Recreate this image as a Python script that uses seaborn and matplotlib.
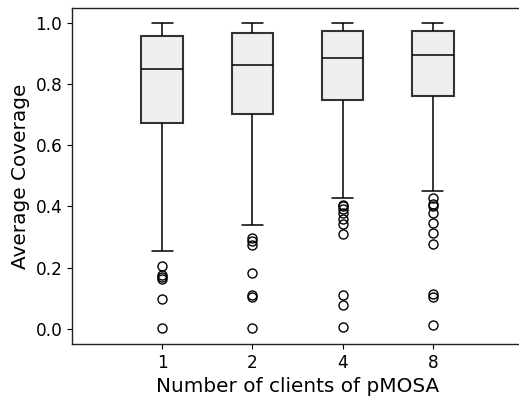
import matplotlib
matplotlib.use("Agg")
import matplotlib.pyplot as plt
import seaborn as sns
import pandas as pd

# values
clients = ["1", "2", "4", "8"]
q1 = [0.674, 0.703, 0.749, 0.761]
median = [0.850, 0.863, 0.886, 0.896]
q3 = [0.956, 0.966, 0.974, 0.975]
whisker_low = [0.254, 0.339, 0.426, 0.450]
whisker_high = [1.0, 1.0, 1.0, 1.0]
outliers = [
    [0.204, 0.175, 0.168, 0.162, 0.098, 0.001],
    [0.297, 0.286, 0.275, 0.182, 0.109, 0.105, 0.001],
    [0.406, 0.401, 0.393, 0.379, 0.359, 0.341, 0.310, 0.109, 0.076, 0.006],
    [0.428, 0.408, 0.401, 0.378, 0.346, 0.314, 0.278, 0.114, 0.103, 0.011],
]


def build_sample(lo, a, m, b, hi, extra, rep=14):  # sample whose box stats match the read ones
    return extra + [lo] + [a] * rep + [m] * rep + [b] * rep + [hi]


def make_frame():
    rows = []
    for i, c in enumerate(clients):
        vals = build_sample(whisker_low[i], q1[i], median[i], q3[i], whisker_high[i], outliers[i])
        rows.extend({"clients": c, "coverage": v} for v in vals)
    return pd.DataFrame(rows)


def main():
    df = make_frame()
    sns.set_style("ticks")
    plt.rcParams["font.family"] = ["DejaVu Sans"]
    plt.rcParams["text.color"] = "black"
    plt.rcParams["axes.labelcolor"] = "black"

    fig = plt.figure(figsize=(5.19, 3.99), dpi=100)
    ax = fig.add_axes([72 / 519, 55 / 399, 451 / 519, 336.3 / 399])

    sns.boxplot(data=df, x="clients", y="coverage", order=clients, ax=ax,
                color="#efefef", saturation=1, width=0.46, linecolor="black",
                linewidth=1.1,
                boxprops=dict(edgecolor="#333333", linewidth=1.5),
                flierprops=dict(marker="o", markerfacecolor="none",
                                markeredgecolor="black", markersize=6.5))

    ax.set_xlim(-1, 4)
    ax.set_ylim(-0.05, 1.05)
    ax.set_yticks([0.0, 0.2, 0.4, 0.6, 0.8, 1.0])
    ax.set_xlabel("Number of clients of pMOSA", fontsize=14.4, color="black")
    ax.set_ylabel("Average Coverage", fontsize=14.4, color="black")
    ax.tick_params(labelsize=12.2, color="black", labelcolor="black",
                   length=3.5, width=0.8)
    ax.spines["right"].set_visible(False)
    for s in ax.spines.values():
        s.set_color("#222222")
        s.set_linewidth(1.0)

    fig.savefig("out.png", dpi=100)


if __name__ == "__main__":
    main()
